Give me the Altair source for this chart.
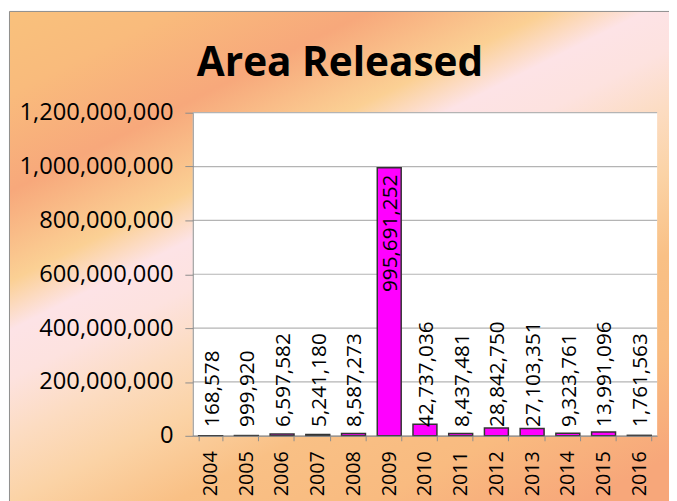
import altair as alt
import pandas as pd

years = ["2004", "2005", "2006", "2007", "2008", "2009", "2010",
         "2011", "2012", "2013", "2014", "2015", "2016"]
values = [168578, 999920, 6597582, 5241180, 8587273, 995691252, 42737036,
          8437481, 28842750, 27103351, 9323761, 13991096, 1761563]
y_ticks = [0, 200000000, 400000000, 600000000, 800000000, 1000000000, 1200000000]

df = pd.DataFrame({"year": years, "value": values})
grid_df = pd.DataFrame({"tick": y_ticks})

W, H = 470, 327
PL, PT, PR, PB = 187, 103, 12, 63

FONT = "Open Sans"

xscale = alt.Scale(paddingInner=0.33, paddingOuter=0.165)
yscale = alt.Scale(domain=[0, 1200000000], nice=False)

x_axis = alt.Axis(title=None, labelAngle=-90, labelFontSize=20, labelFont=FONT,
                  labelColor="black", tickBand="extent", tickSize=5, tickColor="#8c8c8c",
                  domainColor="#8c8c8c", labelPadding=10, grid=False, zindex=1)
y_axis = alt.Axis(title=None, values=y_ticks, format=",.0f", labelFontSize=24,
                  labelFont=FONT, labelColor="black", tickSize=8, tickColor="#8c8c8c",
                  domainColor="#8c8c8c", labelPadding=12, grid=False, zindex=1)

bg_grad = alt.Gradient(
    gradient="linear", x1=0, y1=0, x2=0.74, y2=1.035,
    stops=[
        alt.GradientStop(color="#f9c17c", offset=0.0),
        alt.GradientStop(color="#f9bb7c", offset=0.1),
        alt.GradientStop(color="#f7a87b", offset=0.22),
        alt.GradientStop(color="#fbd094", offset=0.33),
        alt.GradientStop(color="#fde3e6", offset=0.39),
        alt.GradientStop(color="#fde2df", offset=0.45),
        alt.GradientStop(color="#fcdcc2", offset=0.52),
        alt.GradientStop(color="#fbd3a6", offset=0.6),
        alt.GradientStop(color="#f9c085", offset=0.7),
        alt.GradientStop(color="#f9bb80", offset=0.82),
        alt.GradientStop(color="#f7a77a", offset=0.95),
        alt.GradientStop(color="#f7a77a", offset=1.0),
    ],
)

one = alt.Data(values=[{}])

background = alt.Chart(one).mark_rect(
    fill=bg_grad, stroke="#8c8c8c", strokeWidth=1
).encode(
    x=alt.value(-PL + 1.5), x2=alt.value(W + 100),
    y=alt.value(-PT + 0.5), y2=alt.value(H + 100),
)

plot_bg = alt.Chart(one).mark_rect(fill="white").encode(
    x=alt.value(0), x2=alt.value(W), y=alt.value(0), y2=alt.value(H)
)

grid = alt.Chart(grid_df).mark_rule(color="#b4b4b4", strokeWidth=1.2).encode(
    y=alt.Y("tick:Q", scale=yscale, axis=y_axis)
)

base = alt.Chart(df)

bars = base.mark_bar(color="#ff00ff", stroke="#333333", strokeWidth=1.5).encode(
    x=alt.X("year:N", sort=years, scale=xscale, axis=x_axis),
    y=alt.Y("value:Q", scale=yscale, axis=y_axis),
)

small_labels = base.transform_filter("datum.value < 200000000").mark_text(
    angle=270, align="left", baseline="middle", dx=9, dy=2,
    fontSize=21, font=FONT, color="black"
).encode(
    x=alt.X("year:N", sort=years, scale=xscale, axis=x_axis),
    y=alt.datum(0, scale=yscale, axis=y_axis),
    text=alt.Text("value:Q", format=","),
)

big_labels = base.transform_filter("datum.value >= 200000000").mark_text(
    angle=270, align="right", baseline="middle", dx=-7, dy=2,
    fontSize=21, font=FONT, color="black"
).encode(
    x=alt.X("year:N", sort=years, scale=xscale, axis=x_axis),
    y=alt.Y("value:Q", scale=yscale, axis=y_axis),
    text=alt.Text("value:Q", format=","),
)

chart = alt.layer(background, plot_bg, grid, bars, small_labels, big_labels).properties(
    width=W, height=H,
    autosize=alt.AutoSizeParams(type="none"),
    padding={"left": PL, "top": PT, "right": PR, "bottom": PB},
    title=alt.TitleParams("Area Released", fontSize=41, font=FONT, fontWeight="bold",
                          color="black", anchor="middle", dx=-86, offset=0,
                          baseline="alphabetic", dy=107),
).configure_view(stroke=None)

chart.save("out.html", embed_options={"renderer": "svg", "actions": False})
